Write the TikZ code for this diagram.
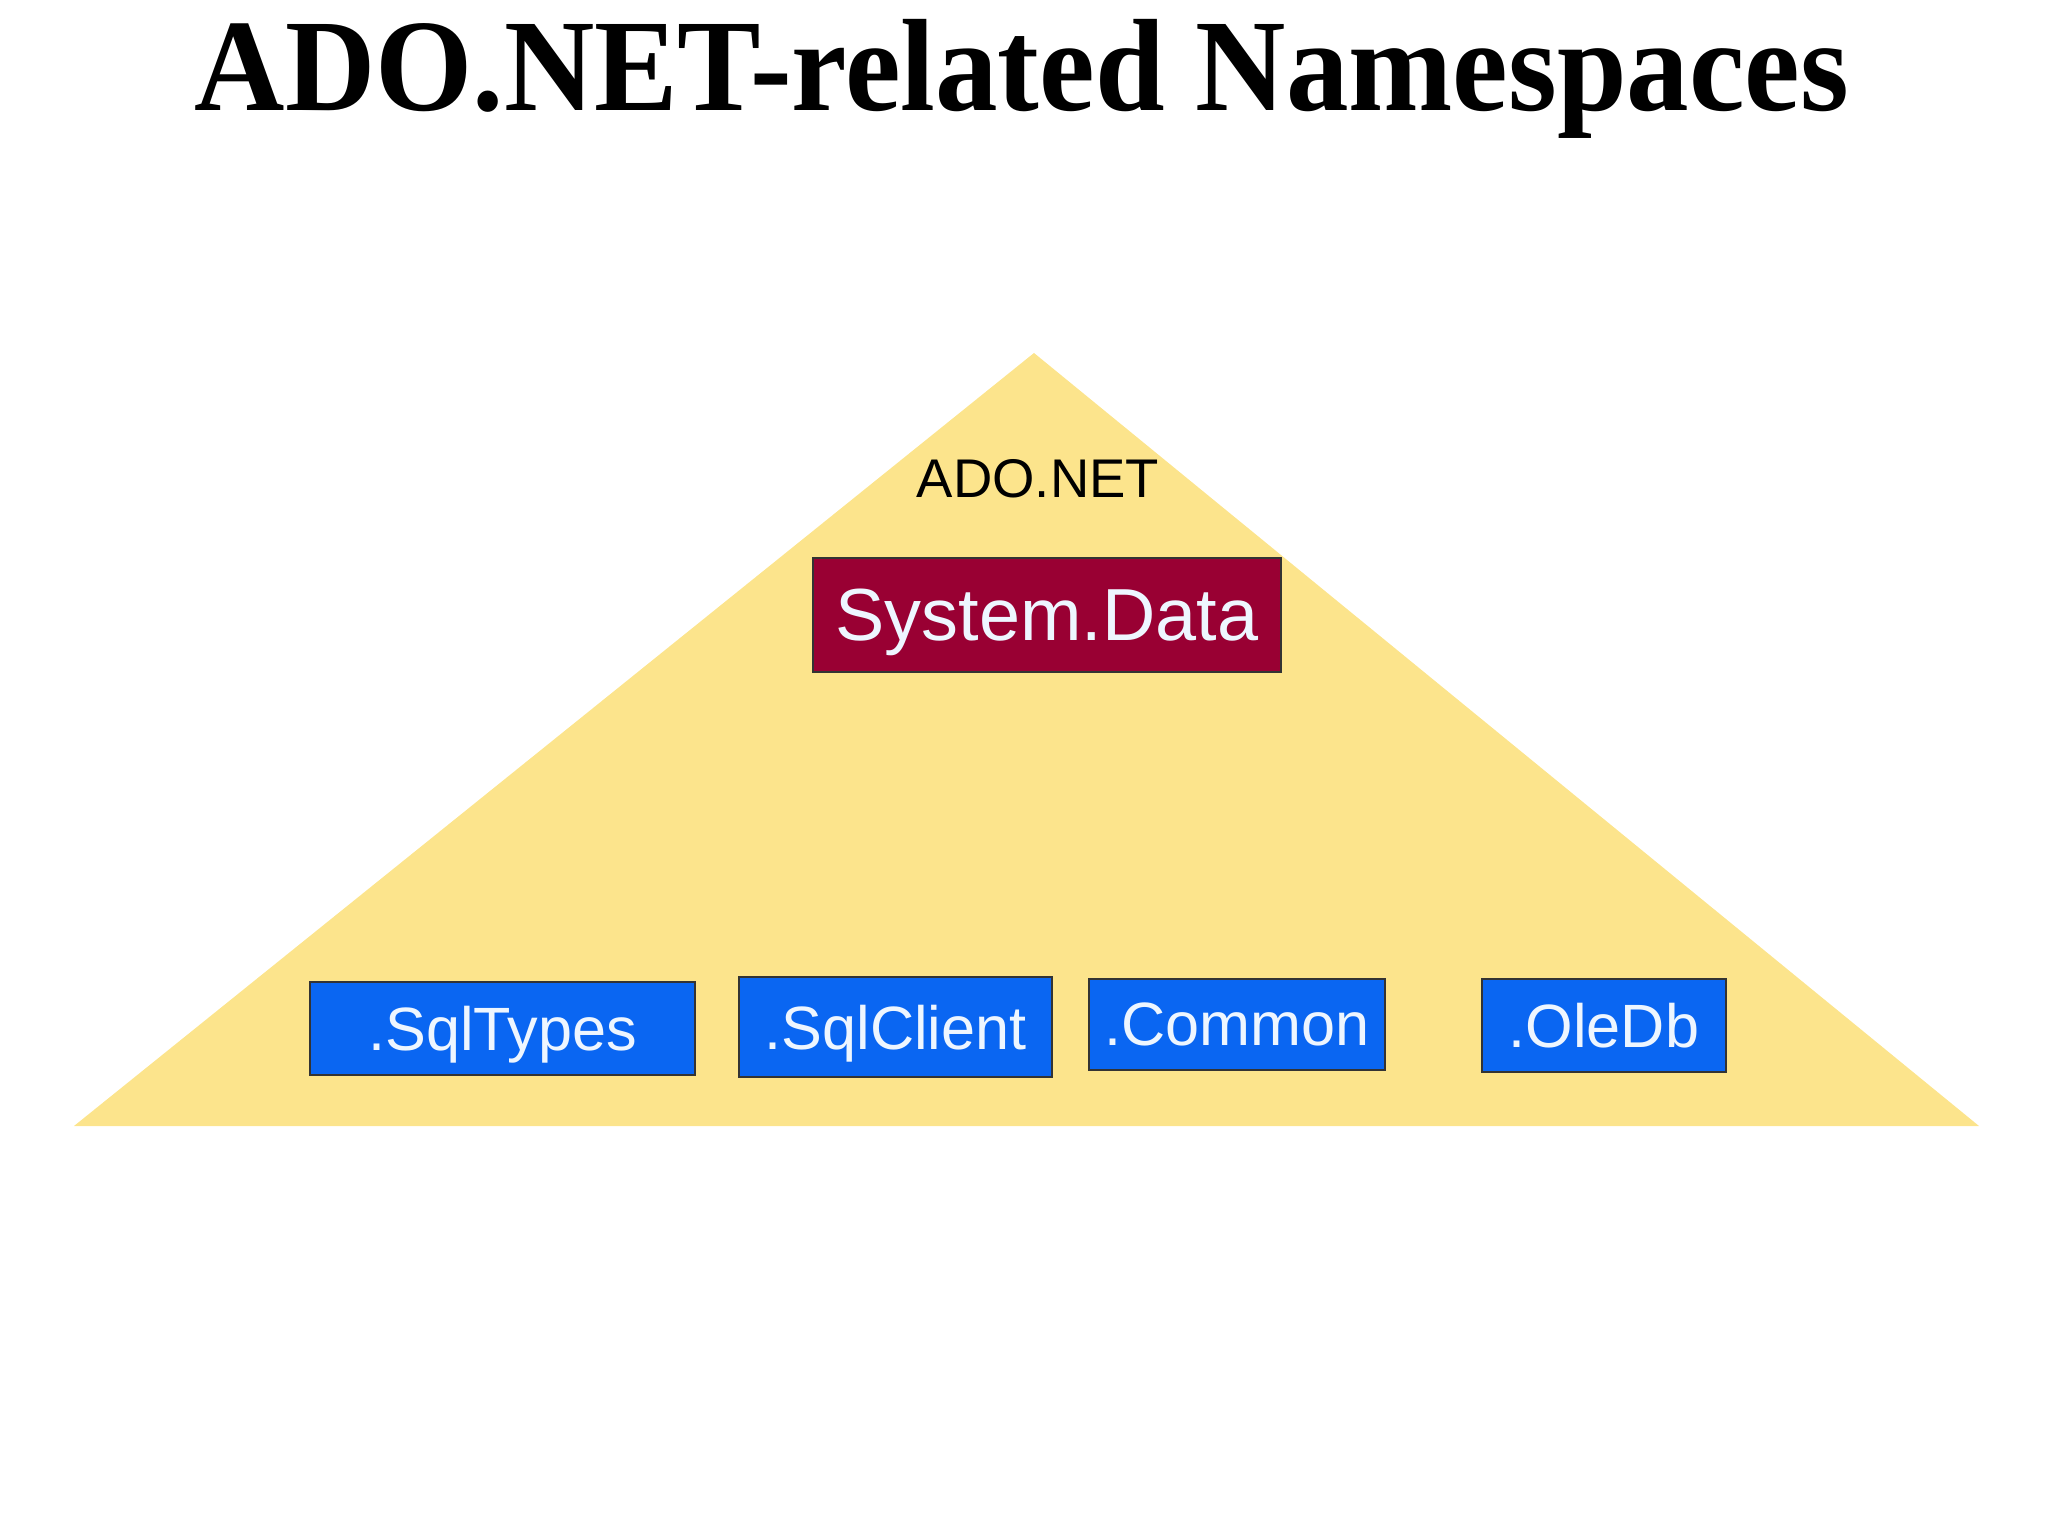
\documentclass[tikz,border=0pt]{standalone}
\usepackage{fontspec}
\setmainfont{Liberation Sans}
\newfontfamily\titlefont{Liberation Serif}
\usepackage{tikz}
\usetikzlibrary{positioning}

\definecolor{pyramid}{HTML}{FCE48C}
\definecolor{nsred}{HTML}{990033}
\definecolor{nsblue}{HTML}{0A66F2}
\definecolor{nstext}{HTML}{EEF6FF}

\begin{document}
\begin{tikzpicture}[every path/.style={thin},
                    rootbox/.style={rectangle, draw=black!80, line width=0.6pt, fill=nsred,
                      text=nstext, inner sep=0pt, text depth=0pt, font=\fontsize{21}{24}\selectfont},
                    subbox/.style={rectangle, draw=black!80, line width=0.6pt, fill=nsblue,
                      text=nstext, inner sep=0pt, text depth=0pt, font=\fontsize{17.4}{20}\selectfont}]

\useasboundingbox (0,0) rectangle (20.48,-15.36);

% Title
\node[anchor=base] (title) at (10.22,-1.11)
  {\scalebox{1}[1.05]{\titlefont\bfseries\fontsize{35.6}{40}\selectfont ADO.NET-related Namespaces}};

% Pyramid
\fill[pyramid] (10.34,-3.53) -- (0.74,-11.26) -- (19.79,-11.26) -- cycle;

% Nodes
\node[anchor=base, font=\fontsize{15.5}{18}\selectfont] (ado) at (10.38,-4.98) {ADO.NET};
\node[rootbox, minimum width=4.68cm, minimum height=1.14cm] (sysdata) at (10.47,-6.15) {System.Data};

\node[subbox, minimum width=3.85cm, minimum height=0.93cm] (sqltypes)  at (5.025,-10.285) {.SqlTypes};
\node[subbox, minimum width=3.13cm, minimum height=1.00cm] (sqlclient) at (8.955,-10.27)  {.SqlClient};
\node[subbox, minimum width=2.96cm, minimum height=0.91cm] (common)    at (12.37,-10.245) {.Common};
\node[subbox, minimum width=2.44cm, minimum height=0.93cm] (oledb)     at (16.04,-10.255) {.OleDb};

\end{tikzpicture}
\end{document}
